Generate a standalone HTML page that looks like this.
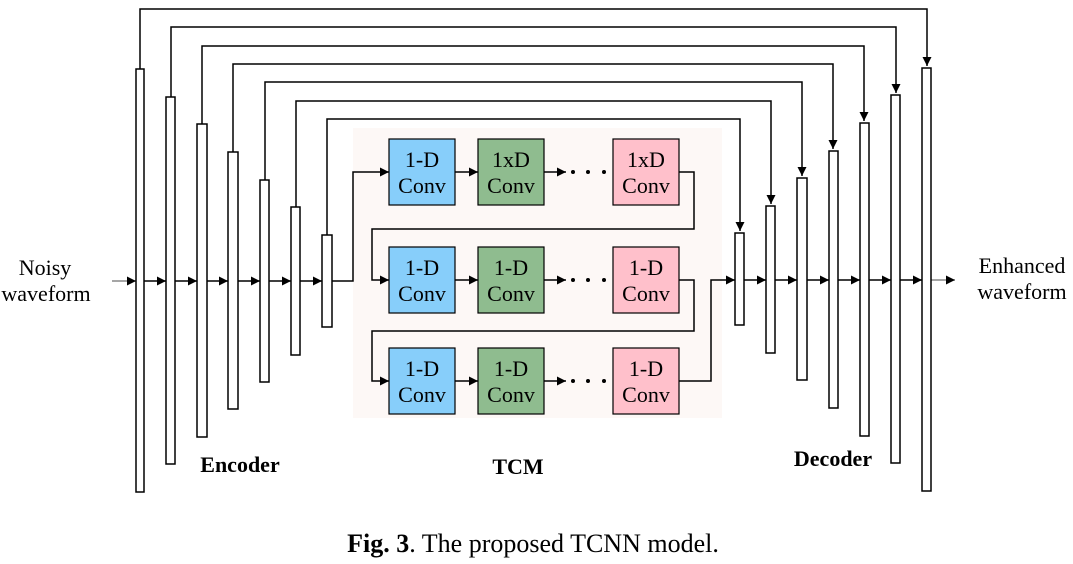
<!DOCTYPE html>
<html><head><meta charset="utf-8"><style>html,body{margin:0;padding:0;background:#fff}</style></head>
<body>
<svg width="1073" height="559" viewBox="0 0 1073 559" xmlns="http://www.w3.org/2000/svg" font-family="Liberation Serif, serif">
<defs>
<marker id="a" viewBox="0 0 10 10" refX="10" refY="5" markerWidth="13" markerHeight="9" markerUnits="userSpaceOnUse" orient="auto"><path d="M0,0L10,5L0,10z" fill="#000"/></marker>
</defs>
<rect x="353" y="128" width="369" height="290" fill="#fdf8f6"/>
<g fill="none" stroke="#000" stroke-width="1.5">
<path d="M140,69V9H927V66" marker-end="url(#a)"/>
<path d="M171,97V27H896V93" marker-end="url(#a)"/>
<path d="M202,124V46H864V121" marker-end="url(#a)"/>
<path d="M233,152V64H833V149" marker-end="url(#a)"/>
<path d="M265,180V82H802V176" marker-end="url(#a)"/>
<path d="M296,207V101H771V204" marker-end="url(#a)"/>
<path d="M327,235V119H740V231" marker-end="url(#a)"/>
<path d="M112,281H136" stroke="#888" marker-end="url(#a)"/>
<path d="M144,281H166" marker-end="url(#a)"/>
<path d="M175,281H197" marker-end="url(#a)"/>
<path d="M207,281H228" marker-end="url(#a)"/>
<path d="M238,281H260" marker-end="url(#a)"/>
<path d="M269,281H291" marker-end="url(#a)"/>
<path d="M300,281H322" marker-end="url(#a)"/>
<path d="M332,281H353V172H389" marker-end="url(#a)"/>
<path d="M455,172H478" marker-end="url(#a)"/>
<path d="M544,172H566" marker-end="url(#a)"/>
<path d="M679,172H694V229H372V280H389" marker-end="url(#a)"/>
<path d="M455,280H478" marker-end="url(#a)"/>
<path d="M544,280H566" marker-end="url(#a)"/>
<path d="M679,280H694V331H372V381H389" marker-end="url(#a)"/>
<path d="M455,381H478" marker-end="url(#a)"/>
<path d="M544,381H566" marker-end="url(#a)"/>
<path d="M679,381H711V280H735" marker-end="url(#a)"/>
<path d="M744,280H766" marker-end="url(#a)"/>
<path d="M775,280H797" marker-end="url(#a)"/>
<path d="M807,280H829" marker-end="url(#a)"/>
<path d="M838,280H860" marker-end="url(#a)"/>
<path d="M869,280H891" marker-end="url(#a)"/>
<path d="M900,280H922" marker-end="url(#a)"/>
<path d="M931,280H955" stroke="#888" marker-end="url(#a)"/>
</g>
<g fill="#fff" stroke="#000" stroke-width="1.5">
<rect x="136" y="69" width="8" height="423"/>
<rect x="166" y="97" width="9" height="367"/>
<rect x="197" y="124" width="10" height="313"/>
<rect x="228" y="152" width="10" height="257"/>
<rect x="260" y="180" width="9" height="202"/>
<rect x="291" y="207" width="9" height="148"/>
<rect x="322" y="235" width="10" height="92"/>
<rect x="735" y="233" width="9" height="92"/>
<rect x="766" y="206" width="9" height="147"/>
<rect x="797" y="178" width="10" height="202"/>
<rect x="829" y="151" width="9" height="257"/>
<rect x="860" y="123" width="9" height="313"/>
<rect x="891" y="95" width="9" height="368"/>
<rect x="922" y="68" width="9" height="423"/>
</g>
<g stroke="#000" stroke-width="1.2">
<rect x="389" y="139" width="66" height="66" fill="#87cefa"/>
<rect x="478" y="139" width="66" height="66" fill="#8fbc8f"/>
<rect x="613" y="139" width="66" height="66" fill="#ffc0cb"/>
<rect x="389" y="247" width="66" height="66" fill="#87cefa"/>
<rect x="478" y="247" width="66" height="66" fill="#8fbc8f"/>
<rect x="613" y="247" width="66" height="66" fill="#ffc0cb"/>
<rect x="389" y="348" width="66" height="66" fill="#87cefa"/>
<rect x="478" y="348" width="66" height="66" fill="#8fbc8f"/>
<rect x="613" y="348" width="66" height="66" fill="#ffc0cb"/>
</g>
<g fill="#000">
<circle cx="573" cy="172" r="2"/><circle cx="588" cy="172" r="2"/><circle cx="604" cy="172" r="2"/>
<circle cx="573" cy="280" r="2"/><circle cx="588" cy="280" r="2"/><circle cx="604" cy="280" r="2"/>
<circle cx="573" cy="381" r="2"/><circle cx="588" cy="381" r="2"/><circle cx="604" cy="381" r="2"/>
</g>
<g font-size="22" text-anchor="middle" fill="#000">
<text x="422" y="167">1-D</text><text x="422" y="193">Conv</text>
<text x="511" y="167">1xD</text><text x="511" y="193">Conv</text>
<text x="646" y="167">1xD</text><text x="646" y="193">Conv</text>
<text x="422" y="275">1-D</text><text x="422" y="301">Conv</text>
<text x="511" y="275">1-D</text><text x="511" y="301">Conv</text>
<text x="646" y="275">1-D</text><text x="646" y="301">Conv</text>
<text x="422" y="376">1-D</text><text x="422" y="402">Conv</text>
<text x="511" y="376">1-D</text><text x="511" y="402">Conv</text>
<text x="646" y="376">1-D</text><text x="646" y="402">Conv</text>
<text x="45" y="275">Noisy</text><text x="46" y="301">waveform</text>
<text x="1022" y="273">Enhanced</text><text x="1022" y="299">waveform</text>
<text x="240" y="472" font-weight="bold" font-size="22">Encoder</text>
<text x="518" y="474" font-weight="bold" font-size="22">TCM</text>
<text x="833" y="466" font-weight="bold" font-size="22">Decoder</text>
<text x="533" y="552" font-size="26"><tspan font-weight="bold">Fig. 3</tspan>. The proposed TCNN model.</text>
</g>
</svg>
</body></html>
